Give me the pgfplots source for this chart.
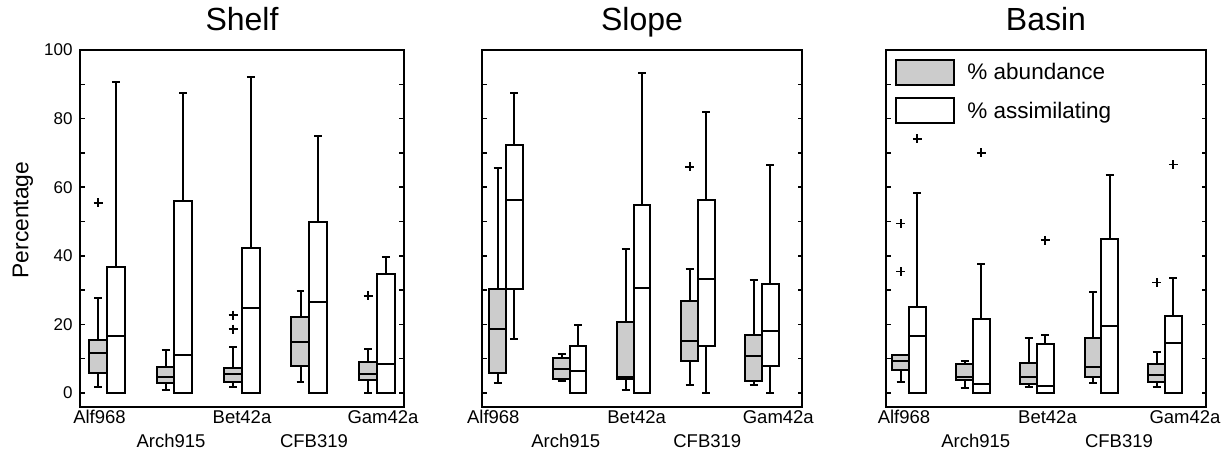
\documentclass[border=0pt]{standalone}
\usepackage{fontspec}
\setmainfont{Liberation Sans}
\usepackage{pgfplots}
\pgfplotsset{compat=1.18}
\usepgfplotslibrary{statistics}
\definecolor{boxgray}{RGB}{204,204,204}

\newcommand{\bx}[8]{\addplot[#1, boxplot prepared={draw direction=y, draw position=#2, lower whisker=#3, lower quartile=#4, median=#5, upper quartile=#6, upper whisker=#7}] coordinates {#8};}

\pgfplotsset{
  panel/.style={
    scale only axis, height=356.7pt, anchor=south west, xmin=0,
    ymin=-4, ymax=100, ytick={0,20,...,100}, minor ytick={10,30,...,90},
    tick align=inside, major tick length=4.5pt, minor tick length=4.5pt,
    ytick pos=both, yticklabel pos=left,
    ytick style={black, line width=1.5pt},
    minor tick style={black, line width=1.5pt},
    xtick style={draw=none},
    axis line style={line width=2pt},
    /pgf/number format/assume math mode=true,
    yticklabel style={font=\fontsize{17}{20}\selectfont, inner sep=0pt, xshift=-7.3pt},
    xticklabel style={font=\fontsize{18.5}{22}\selectfont, inner sep=0pt, anchor=base, yshift=-16.5pt},
    extra x tick style={xtick style={draw=none}, xticklabel style={yshift=-23.8pt}},
    title style={font=\fontsize{32}{36}\selectfont, at={(0.5,1)}, anchor=base, yshift=13.3pt},
  },
  bxs/.style n args={3}{draw=black, line width=2pt, mark=+, mark size=4.5pt, mark options={solid, line width=1.8pt},
    boxplot/draw direction=y,
    boxplot/box extend=#1, boxplot/whisker extend=#2, boxplot/every box/.style={draw=black, fill=#3}},
  G1/.style={bxs={0.2667}{0.1185}{boxgray}}, W1/.style={bxs={0.2667}{0.1185}{white}},
  G2/.style={bxs={0.2594}{0.125}{boxgray}},  W2/.style={bxs={0.2594}{0.125}{white}},
}

\begin{document}
\begin{tikzpicture}
\useasboundingbox (0,0) rectangle (1229pt,450pt);

% ---------------- Shelf ----------------
\begin{axis}[panel, at={(80pt,43.3pt)}, width=324pt, xmax=4.8,
  title=Shelf,
  ylabel={Percentage},
  ylabel style={font=\fontsize{22.8}{26}\selectfont, at={(axis description cs:-0.176,0.523)}, anchor=center},
  xtick={0.2889,2.4,4.4889}, xticklabels={Alf968,Bet42a,Gam42a},
  extra x ticks={1.3481,3.4667}, extra x tick labels={Arch915,CFB319},
]
\bx{G1}{0.2667}{1.8}{5.8}{11.8}{15.4}{27.8}{(0,55.4)}
\bx{W1}{0.5333}{0}{0}{16.7}{36.8}{90.6}{}
\bx{G1}{1.2667}{0.9}{2.9}{4.8}{7.5}{12.5}{}
\bx{W1}{1.5333}{0}{0}{11.2}{56.1}{87.4}{}
\bx{G1}{2.2667}{1.6}{3.2}{5.5}{7.3}{13.5}{(0,18.6) (0,22.7)}
\bx{W1}{2.5333}{0}{0}{24.9}{42.3}{92.0}{}
\bx{G1}{3.2667}{3.1}{7.9}{14.9}{22.2}{29.7}{}
\bx{W1}{3.5333}{0}{0}{26.6}{49.9}{74.8}{}
\bx{G1}{4.2667}{0}{3.9}{5.5}{8.9}{12.8}{(0,28.3)}
\bx{W1}{4.5333}{0}{0}{8.4}{34.8}{39.7}{}
\end{axis}

% ---------------- Slope ----------------
\begin{axis}[panel, at={(482pt,43.3pt)}, width=320pt, xmax=5,
  title=Slope, yticklabels={},
  xtick={0.1766,2.4172,4.6297}, xticklabels={Alf968,Bet42a,Gam42a},
  extra x ticks={1.3078,3.5203}, extra x tick labels={Arch915,CFB319},
]
\bx{G2}{0.2453}{2.9}{5.7}{18.6}{30.4}{65.6}{}
\bx{W2}{0.5047}{15.7}{30.4}{56.2}{72.3}{87.4}{}
\bx{G2}{1.2422}{3.4}{4.1}{7.0}{10.2}{11.5}{}
\bx{W2}{1.5016}{0}{0}{6.3}{13.8}{19.9}{}
\bx{G2}{2.2422}{1.0}{4.1}{4.6}{20.7}{42.1}{}
\bx{W2}{2.5016}{0}{0}{30.7}{54.7}{93.4}{}
\bx{G2}{3.2438}{2.4}{9.2}{15.2}{26.8}{36.2}{(0,65.9)}
\bx{W2}{3.5031}{0}{13.8}{33.3}{56.2}{81.8}{}
\bx{G2}{4.2453}{2.4}{3.6}{10.9}{16.9}{32.9}{}
\bx{W2}{4.5047}{0}{7.9}{18.1}{31.9}{66.6}{}
\end{axis}

% ---------------- Basin ----------------
\begin{axis}[panel, at={(886pt,43.3pt)}, width=320pt, xmax=5,
  title=Basin, yticklabels={},
  xtick={0.28125,2.5234,4.6719}, xticklabels={Alf968,Bet42a,Gam42a},
  extra x ticks={1.4031,3.6406}, extra x tick labels={Arch915,CFB319},
  legend image code/.code={\draw[line width=2pt,#1] (0pt,-5pt) rectangle (58pt,20pt);},
  legend style={at={(0.029,0.976)}, anchor=north west, draw=none, fill=none, inner sep=0pt,
    row sep=11.4pt, column sep=12pt, font=\fontsize{22.5}{26}\selectfont,
    nodes={inner sep=0pt, anchor=base west}},
]
\addlegendimage{draw=black, fill=boxgray}
\addlegendentry{\% abundance}
\addlegendimage{draw=black, fill=white}
\addlegendentry{\% assimilating}
\bx{G2}{0.2297}{3.1}{6.8}{9.4}{11.1}{11.1}{(0,35.4) (0,49.4)}
\bx{W2}{0.4891}{0}{0}{16.7}{25.2}{58.3}{(0,74.1)}
\bx{G2}{1.2297}{1.4}{3.8}{4.7}{8.4}{9.4}{}
\bx{W2}{1.4891}{0}{0}{2.6}{21.5}{37.5}{(0,70.0)}
\bx{G2}{2.2297}{1.8}{2.6}{4.7}{8.6}{15.9}{}
\bx{W2}{2.4891}{0}{0}{2.1}{14.4}{17.0}{(0,44.5)}
\bx{G2}{3.2344}{2.8}{4.6}{7.5}{15.9}{29.3}{}
\bx{W2}{3.4938}{0}{0}{19.4}{45.0}{63.7}{}
\bx{G2}{4.2297}{1.6}{3.3}{5.3}{8.4}{12.0}{(0,32.2)}
\bx{W2}{4.4891}{0}{0}{14.5}{22.5}{33.4}{(0,66.6)}
\end{axis}
\end{tikzpicture}
\end{document}
